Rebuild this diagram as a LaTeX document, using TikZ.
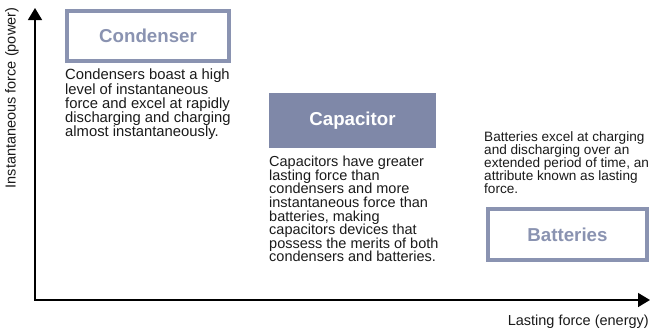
\documentclass[tikz,border=0pt]{standalone}
\usepackage{fontspec}
\setmainfont{Liberation Sans}
\usetikzlibrary{arrows.meta}
\definecolor{boxc}{HTML}{8A93B1}
\definecolor{fillc}{HTML}{7F88A8}
\definecolor{txtc}{HTML}{1A1A1A}
\tikzset{
  x=1pt, y=-1pt,
  axis/.style={line width=1.5pt, -{Triangle[length=12pt,width=14pt]}},
  outlinebox/.style={draw=boxc, line width=4pt, fill=white},
  filledbox/.style={fill=fillc},
  boxlabel/.style={font=\fontsize{18.7}{20}\selectfont\bfseries, inner sep=0pt},
  desc/.style={anchor=north west, inner sep=0pt, align=left, text=txtc},
  axislabel/.style={font=\fontsize{14.5}{16}\selectfont, inner sep=0pt, text=txtc}
}
\begin{document}
\begin{tikzpicture}
\useasboundingbox (0,0) rectangle (651,333);
% axes
\coordinate (origin) at (35,300);
\coordinate (ytip) at (35,8);
\coordinate (xtip) at (650,300);
\draw[axis] (origin) -- (ytip);
\draw[axis] ([xshift=-0.75pt]origin) -- (xtip);
\node[axislabel, rotate=90] (ylab) at (12,98) {Instantaneous force (power)};
\node[axislabel, anchor=east] (xlab) at (649,322) {Lasting force (energy)};
% Condenser
\draw[outlinebox] (67,11) rectangle (229,61);
\node[boxlabel, text=boxc] (cond) at (148,36) {Condenser};
\node[desc, font=\fontsize{14.8}{14.25}\selectfont] (conddesc) at (65,69)
  {Condensers boast a high\\level of instantaneous\\force and excel at rapidly\\discharging and charging\\almost instantaneously.};
% Capacitor
\fill[filledbox] (269,93) rectangle (436,148);
\node[boxlabel, text=white] (cap) at (352.5,120.5) {Capacitor};
\node[desc, font=\fontsize{14.5}{13.6}\selectfont] (capdesc) at (269,156)
  {Capacitors have greater\\lasting force than\\condensers and more\\instantaneous force than\\batteries, making\\capacitors devices that\\possess the merits of both\\condensers and batteries.};
% Batteries
\node[desc, font=\fontsize{13.6}{12.9}\selectfont] (batdesc) at (484,131.5)
  {Batteries excel at charging\\and discharging over an\\extended period of time, an\\attribute known as lasting\\force.};
\draw[outlinebox] (488,209) rectangle (647,260);
\node[boxlabel, text=boxc] (bat) at (567.5,234.5) {Batteries};
\end{tikzpicture}
\end{document}
